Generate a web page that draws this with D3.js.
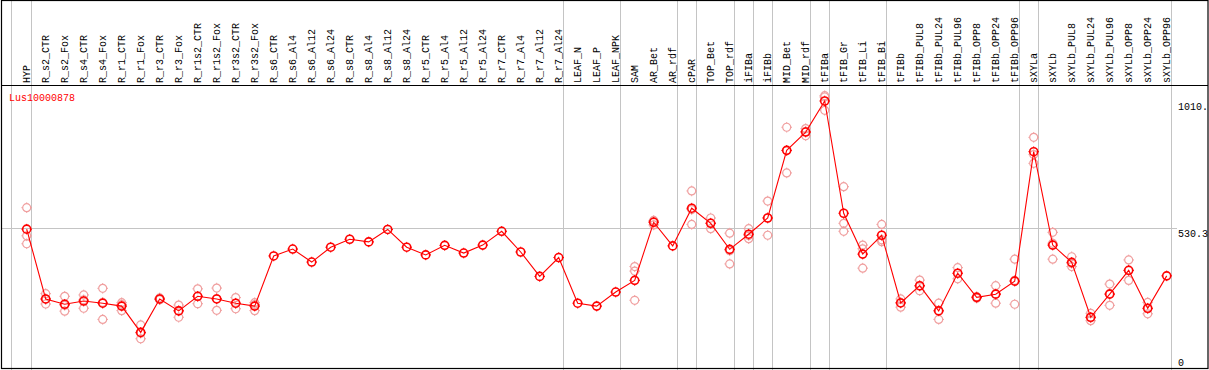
<!DOCTYPE html>
<html>
<head>
<meta charset="utf-8">
<script src="https://cdn.jsdelivr.net/npm/d3@7"></script>
<style>
html,body{margin:0;padding:0;background:#fff;}
svg{display:block;}
text{font-family:"Liberation Mono","DejaVu Sans Mono",monospace;font-size:10px;}
</style>
</head>
<body>
<svg id="chart" width="1209" height="370"></svg>
<script>
const geneName = "Lus10000878";
const categories = ["HYP","R_s2_CTR","R_s2_Fox","R_s4_CTR","R_s4_Fox","R_r1_CTR","R_r1_Fox","R_r3_CTR","R_r3_Fox","R_r1s2_CTR","R_r1s2_Fox","R_r3s2_CTR","R_r3s2_Fox","R_s6_CTR","R_s6_Al4","R_s6_Al12","R_s6_Al24","R_s8_CTR","R_s8_Al4","R_s8_Al12","R_s8_Al24","R_r5_CTR","R_r5_Al4","R_r5_Al12","R_r5_Al24","R_r7_CTR","R_r7_Al4","R_r7_Al12","R_r7_Al24","LEAF_N","LEAF_P","LEAF_NPK","SAM","AR_Bet","AR_rdf","cPAR","TOP_Bet","TOP_rdf","iFIBa","iFIBb","MID_Bet","MID_rdf","tFIBa","tFIB_Gr","tFIB_Li","tFIB_Bi","tFIBb","tFIBb_PUL8","tFIBb_PUL24","tFIBb_PUL96","tFIBb_OPP8","tFIBb_OPP24","tFIBb_OPP96","sXYLa","sXYLb","sXYLb_PUL8","sXYLb_PUL24","sXYLb_PUL96","sXYLb_OPP8","sXYLb_OPP24","sXYLb_OPP96"];
const meanValues = [527,264,244,256,248,237,138,264,219,274,264,248,237,426,452,403,459,489,479,526,459,430,466,437,467,519,441,349,420,248,237,290,334,553,464,606,549,451,508,569,824,893,1010,587,433,504,249,314,219,361,270,282,331,819,467,402,195,282,372,229,351];
const replicateValues = [
 [608,502,472],[284,245,263],[274,218,240],[279,229,261],[304,187,251],[250,220,243],[166,114,135],[268,262,261],[241,195,220],[302,246,274],[305,221,265],[269,227,247],[250,220,243],
 [],[],[],[],[],[],[],[],[],[],[],[],[],[],[],[],[],[],[],
 [386,369,259],[560,556,543],[],[671,545,601],[569,529,550],[512,396,446],[529,491,503],[633,504,570],[911,739,823],[906,879,895],[1030,1025,975],[687,549,519],[467,380,453],[545,480,487],
 [264,233,250],[335,295,312],[248,187,221],[382,340,360],[272,267,272],[314,248,283],[414,244,334],[873,775,808],[515,414,474],[423,386,398],[210,182,193],[320,240,284],[411,334,371],[251,208,227],[]
];
const separatorsAfter = ["HYP","R_r7_Al24","LEAF_NPK","AR_rdf","cPAR","TOP_rdf","iFIBa","iFIBb","MID_rdf","tFIBa","tFIB_Bi","tFIBb_OPP96","sXYLa","sXYLb_OPP96"];
const yTicks = [0, 530.3, 1010];
const yTickLabels = ["0", "530.3", "1010."];
const yMax = 1010;

const svg = d3.select("#chart");
const W = 1209, H = 370;
const plotTop = 85.5, plotBottom = 369;

const x = d3.scalePoint().domain(categories).range([26.7, 26.7 + 19 * (categories.length - 1)]);
const step = x.step();
const y = d3.scaleLinear().domain([0, yMax]).range([369, 101]);

// separators (vertical gray lines, full height)
const sepX = [x(categories[0]) - step + 3].concat(separatorsAfter.map(c => x(c) + 4));
svg.append("g").selectAll("line").data(sepX).join("line")
  .attr("x1", d => Math.round(d) + 0.5).attr("x2", d => Math.round(d) + 0.5)
  .attr("y1", 0).attr("y2", H)
  .attr("stroke", "#c4c4c4").attr("stroke-width", 1);

// horizontal gridline at mid tick
svg.append("line")
  .attr("x1", 1).attr("x2", 1177)
  .attr("y1", Math.round(y(yTicks[1])) + 0.5).attr("y2", Math.round(y(yTicks[1])) + 0.5)
  .attr("stroke", "#c4c4c4").attr("stroke-width", 1);

// frame
svg.append("rect").attr("x", 1.5).attr("y", 0.5).attr("width", 1206.5).attr("height", 368)
  .attr("fill", "none").attr("stroke", "#000").attr("stroke-width", 1.2);
svg.append("line").attr("x1", 1).attr("x2", 1208).attr("y1", plotTop).attr("y2", plotTop)
  .attr("stroke", "#000").attr("stroke-width", 1.2);

// category labels
svg.append("g").selectAll("text").data(categories).join("text")
  .attr("transform", d => `translate(${x(d) + 3},83) rotate(-90)`)
  .attr("text-anchor", "start")
  .attr("font-size", "9.6px")
  .attr("fill", "#000")
  .text(d => d);

// y tick labels
svg.append("g").selectAll("text").data(yTicks).join("text")
  .attr("x", 1178)
  .attr("y", d => Math.min(y(d) + 8.5, 365.5))
  .attr("fill", "#000")
  .text((d, i) => yTickLabels[i]);

// gene name
svg.append("text").attr("x", 9).attr("y", 101).attr("fill", "#ff0000").text(geneName);

function marker(g, cx, cy, color, sw) {
  const grp = g.append("g").attr("transform", `translate(${cx},${cy})`);
  grp.append("circle").attr("r", 4).attr("fill", "none").attr("stroke", color).attr("stroke-width", sw);
  const ticks = [[0,-1],[0,1],[-1,0],[1,0]];
  ticks.forEach(([dx, dy]) => {
    grp.append("line").attr("x1", dx * 4).attr("y1", dy * 4).attr("x2", dx * 5.3).attr("y2", dy * 5.3)
      .attr("stroke", color).attr("stroke-width", 1);
  });
}

// replicates
const repG = svg.append("g");
replicateValues.forEach((reps, i) => {
  reps.forEach(v => marker(repG, x(categories[i]), y(v), "#f0a0a0", 1.2));
});

// mean markers
const meanG = svg.append("g");
meanValues.forEach((v, i) => marker(meanG, x(categories[i]), y(v), "#ff0000", 1.6));

// mean line
const line = d3.line().x((d, i) => x(categories[i])).y(d => y(d));
svg.append("path").datum(meanValues).attr("d", line)
  .attr("fill", "none").attr("stroke", "#ff0000").attr("stroke-width", 1.1);
</script>
</body>
</html>
